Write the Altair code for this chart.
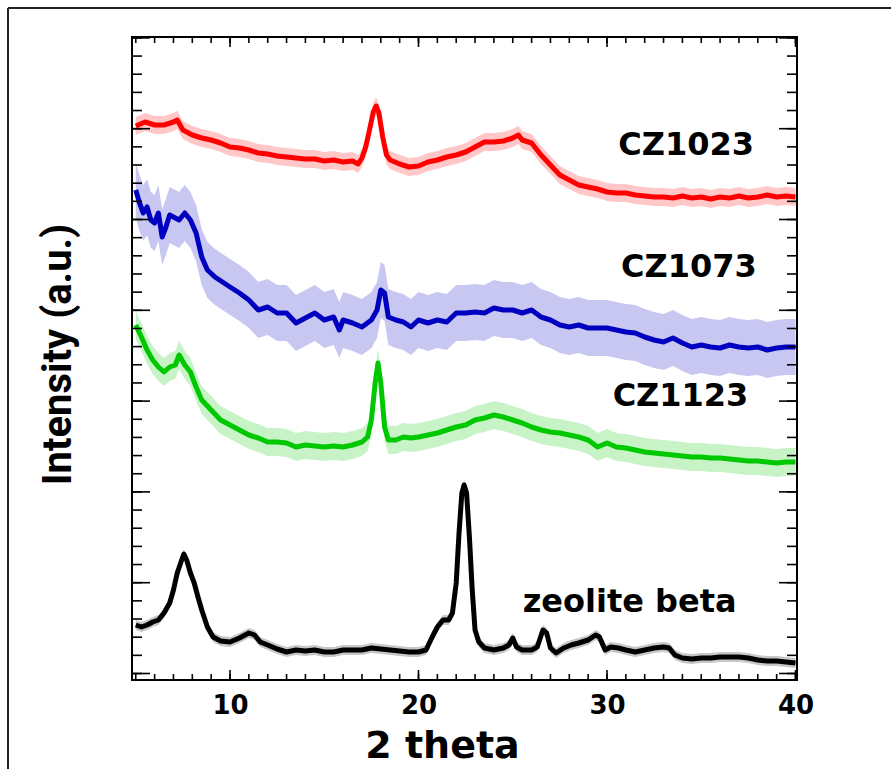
import altair as alt
import pandas as pd

# XRD patterns, 2-theta in degrees; intensities in arbitrary units (stacked offsets)
red_x = [5.0, 5.5, 6.0, 6.5, 7.0, 7.2, 7.5, 8.0, 8.5, 9.0, 9.5, 10.0, 10.5, 11.0, 11.5,
         12.0, 12.5, 13.0, 13.5, 14.0, 14.5, 15.0, 15.5, 16.0, 16.5, 16.8, 17.0, 17.2,
         17.4, 17.6, 17.75, 17.9, 18.1, 18.3, 18.5, 19.0, 19.5, 20.0, 20.5, 21.0, 21.5,
         22.0, 22.5, 23.0, 23.5, 24.0, 24.5, 25.0, 25.3, 25.5, 26.0, 26.5, 27.0, 27.5,
         28.0, 28.5, 29.0, 29.5, 30.0, 30.5, 31.0, 31.5, 32.0, 32.5, 33.0, 33.5, 34.0,
         34.5, 35.0, 35.5, 36.0, 36.5, 37.0, 37.5, 38.0, 38.5, 39.0, 39.5, 40.0]
red_y = [554, 558, 555, 555, 558, 560, 550, 545, 542, 540, 537, 533, 532, 530, 527,
         526, 524, 523, 522, 521, 521, 519, 520, 518, 519, 516, 522, 533,
         550, 568, 574, 567, 543, 525, 520, 516, 513, 514, 518, 520, 523,
         525, 528, 533, 538, 538, 539, 542, 545, 540, 537, 525, 515, 505,
         500, 495, 493, 491, 488, 487, 487, 485, 484, 483, 483, 482, 484,
         482, 483, 481, 483, 482, 484, 482, 483, 485, 483, 484, 483]

blue_x = [5.0, 5.2, 5.4, 5.6, 5.8, 6.0, 6.2, 6.4, 6.6, 6.8, 7.0, 7.3, 7.6, 7.9, 8.2,
          8.5, 8.8, 9.2, 9.6, 10.0, 10.5, 11.0, 11.5, 12.0, 12.5, 13.0, 13.5, 14.0,
          14.5, 15.0, 15.5, 15.8, 16.0, 16.5, 17.0, 17.5, 17.8, 18.0, 18.2, 18.4, 18.8,
          19.2, 19.6, 20.0, 20.5, 21.0, 21.5, 22.0, 22.5, 23.0, 23.5, 24.0, 24.5, 25.0,
          25.5, 26.0, 26.5, 27.0, 27.5, 28.0, 28.5, 29.0, 29.5, 30.0, 30.5, 31.0, 31.5,
          32.0, 32.5, 33.0, 33.5, 34.0, 34.5, 35.0, 35.5, 36.0, 36.5, 37.0, 37.5, 38.0,
          38.5, 39.0, 39.5, 40.0]
blue_y = [490, 477, 467, 473, 460, 457, 467, 443, 453, 465, 463, 460, 467, 460, 447,
          423, 410, 403, 398, 393, 387, 380, 370, 373, 367, 367, 357, 362,
          367, 360, 363, 350, 360, 357, 353, 360, 370, 390, 387, 363, 360,
          358, 353, 360, 357, 360, 358, 367, 367, 368, 367, 372, 370, 370,
          367, 370, 363, 360, 355, 353, 355, 352, 352, 352, 350, 348, 347,
          343, 340, 338, 342, 337, 333, 335, 333, 332, 335, 333, 332, 333,
          330, 332, 333, 333]

green_x = [5.0, 5.3, 5.6, 5.9, 6.2, 6.5, 6.8, 7.1, 7.3, 7.6, 7.9, 8.2, 8.5, 9.0, 9.5,
           10.0, 10.5, 11.0, 11.5, 12.0, 12.5, 13.0, 13.5, 14.0, 14.5, 15.0, 15.5, 16.0,
           16.5, 17.0, 17.3, 17.5, 17.7, 17.85, 18.0, 18.2, 18.4, 18.8, 19.2, 19.6, 20.0,
           20.5, 21.0, 21.5, 22.0, 22.5, 23.0, 23.5, 24.0, 24.5, 25.0, 25.5, 26.0, 26.5,
           27.0, 27.5, 28.0, 28.5, 29.0, 29.5, 30.0, 30.5, 31.0, 31.5, 32.0, 32.5, 33.0,
           33.5, 34.0, 34.5, 35.0, 35.5, 36.0, 36.5, 37.0, 37.5, 38.0, 38.5, 39.0, 39.5,
           40.0]
green_y = [355, 343, 330, 320, 313, 308, 313, 315, 325, 315, 308, 293, 280, 270, 260,
           255, 250, 245, 242, 238, 238, 237, 233, 235, 234, 233, 234, 233,
           235, 238, 243, 260, 297, 317, 297, 253, 240, 240, 243, 242, 243,
           245, 247, 250, 253, 255, 260, 262, 265, 263, 260, 257, 253, 250,
           248, 247, 245, 243, 240, 233, 237, 233, 232, 230, 228, 227, 226,
           225, 224, 223, 223, 222, 222, 221, 220, 219, 219, 218, 217, 218,
           218]

black_x = [5.0, 5.3, 5.6, 5.9, 6.2, 6.5, 6.8, 7.0, 7.2, 7.4, 7.55, 7.7, 7.9, 8.1, 8.3,
           8.5, 8.8, 9.1, 9.5, 10.0, 10.5, 11.0, 11.3, 11.6, 12.0, 12.5, 13.0, 13.5,
           14.0, 14.5, 15.0, 15.5, 16.0, 16.5, 17.0, 17.5, 18.0, 18.5, 19.0, 19.5, 20.0,
           20.4, 20.7, 21.0, 21.3, 21.6, 21.8, 22.0, 22.15, 22.3, 22.42, 22.55, 22.7,
           22.85, 23.0, 23.2, 23.5, 24.0, 24.5, 24.8, 25.0, 25.2, 25.5, 26.0, 26.3,
           26.6, 26.8, 27.0, 27.3, 27.7, 28.1, 28.5, 29.0, 29.4, 29.6, 29.9, 30.2, 30.6,
           31.0, 31.5, 32.0, 32.5, 33.0, 33.3, 33.6, 34.0, 34.5, 35.0, 35.5, 36.0, 36.5,
           37.0, 37.5, 38.0, 38.5, 39.0, 39.5, 40.0]
black_y = [55, 53, 55, 58, 60, 67, 77, 90, 107, 118, 126, 120, 107, 97, 83,
           70, 53, 43, 39, 38, 42, 47, 45, 38, 35, 31, 28, 30,
           29, 30, 28, 28, 30, 30, 30, 32, 31, 30, 29, 28, 28,
           30, 42, 53, 60, 60, 67, 97, 147, 187, 195, 187, 143,
           90, 50, 38, 32, 30, 32, 35, 42, 33, 30, 30, 33,
           50, 47, 32, 27, 32, 35, 37, 40, 45, 43, 30, 33, 32,
           30, 28, 30, 32, 33, 32, 25, 22, 21, 22, 22, 23, 23,
           23, 22, 20, 19, 19, 18, 17]

series_names = ["CZ1023", "CZ1073", "CZ1123", "zeolite beta"]
series_colors = ["#ff0000", "#0000c0", "#00c800", "#000000"]
# half-width of the point scatter around each pattern
scatter_halfwidth = [9, 28, 14, 5]

# sample label anchors (2-theta, intensity at text baseline)
label_x = [34.2, 34.35, 33.9, 31.2]
label_y = [525, 403, 274, 68]

frames = []
for name, xs, ys, hw in zip(series_names, [red_x, blue_x, green_x, black_x],
                            [red_y, blue_y, green_y, black_y], scatter_halfwidth):
    d = pd.DataFrame({"two_theta": xs, "intensity": ys})
    d["sample"] = name
    d["lo"] = d["intensity"] - hw
    d["hi"] = d["intensity"] + hw
    frames.append(d)
df = pd.concat(frames, ignore_index=True)

labels = pd.DataFrame({"sample": series_names, "two_theta": label_x, "intensity": label_y})

W, H = 665, 643
xscale = alt.Scale(domain=[4.8, 40.08], nice=False, zero=False)
yscale = alt.Scale(domain=[0, 643], nice=False, zero=False)
color = alt.Color("sample:N", scale=alt.Scale(domain=series_names, range=series_colors),
                  legend=None)

# shared axes: labels and titles only, ticks are drawn as inward rules below
x_axis = alt.Axis(values=[10, 20, 30, 40], format="d", ticks=False, domain=False,
                  grid=False, labelFont="DejaVu Sans", labelFontWeight="bold",
                  labelFontSize=26, labelColor="black", labelPadding=12,
                  title="2 theta", titleFont="DejaVu Sans", titleFontWeight="bold",
                  titleFontSize=38, titleColor="black", titleX=310, titleY=66,
                  titleAlign="center", titleBaseline="middle")
y_axis = alt.Axis(labels=False, ticks=False, domain=False, grid=False,
                  title="Intensity (a.u.)",
                  titleFont="Roboto", titleFontWeight="bold", titleFontSize=40,
                  titleColor="black", titleAngle=270, titleX=-74, titleY=317,
                  titleAlign="center", titleBaseline="middle")


def X(field):
    return alt.X(field, scale=xscale, axis=x_axis)


def Y(field):
    return alt.Y(field, scale=yscale, axis=y_axis)


base = alt.Chart(df)

band = base.mark_area(opacity=0.22).encode(
    x=X("two_theta:Q"), y=Y("lo:Q"), y2="hi:Q", color=color, detail="sample:N",
)

lines = base.mark_line(strokeWidth=5, strokeJoin="round").encode(
    x=X("two_theta:Q"), y=Y("intensity:Q"), color=color, detail="sample:N",
    order="two_theta:Q",
)

text = alt.Chart(labels).mark_text(font="DejaVu Sans", fontWeight="bold", fontSize=32,
                                   align="center", baseline="alphabetic",
                                   color="black").encode(
    x=X("two_theta:Q"), y=Y("intensity:Q"), text="sample:N",
)

# inward-pointing ticks on all four sides
x_minor = pd.DataFrame({"t": list(range(5, 41))})
x_major = pd.DataFrame({"t": [10, 20, 30, 40]})
y_ticks = [6.5 + 18.16 * k for k in range(36)]
y_minor = pd.DataFrame({"t": y_ticks})
y_major = pd.DataFrame({"t": y_ticks[::5]})

tick_style = dict(color="black", strokeWidth=1.6)


def xticks(frame, length):
    bottom = alt.Chart(frame).mark_rule(**tick_style).encode(
        x=X("t:Q"), y=alt.value(H), y2=alt.value(H - length))
    top = alt.Chart(frame).mark_rule(**tick_style).encode(
        x=X("t:Q"), y=alt.value(0), y2=alt.value(length))
    return bottom + top


def yticks(frame, length):
    left = alt.Chart(frame).mark_rule(**tick_style).encode(
        y=Y("t:Q"), x=alt.value(0), x2=alt.value(length))
    right = alt.Chart(frame).mark_rule(**tick_style).encode(
        y=Y("t:Q"), x=alt.value(W), x2=alt.value(W - length))
    return left + right


# outer figure frame
frame_v = alt.Chart(labels).mark_rule(color="#222222", strokeWidth=2).encode(
    x=alt.value(-124), y=alt.value(-29), y2=alt.value(800))
frame_h = alt.Chart(labels).mark_rule(color="#222222", strokeWidth=2).encode(
    x=alt.value(-124), x2=alt.value(900), y=alt.value(-29))

chart = alt.layer(
    band, lines, text,
    xticks(x_minor, 6), xticks(x_major, 10),
    yticks(y_minor, 10), yticks(y_major, 18),
    frame_v, frame_h,
).properties(
    width=W, height=H,
    padding={"left": 132, "top": 37, "right": 94, "bottom": 89},
    autosize=alt.AutoSizeParams(type="none"),
    background="white",
).configure_view(stroke="black", strokeWidth=2)

chart.save("out.html", embed_options={"renderer": "svg", "actions": False})
